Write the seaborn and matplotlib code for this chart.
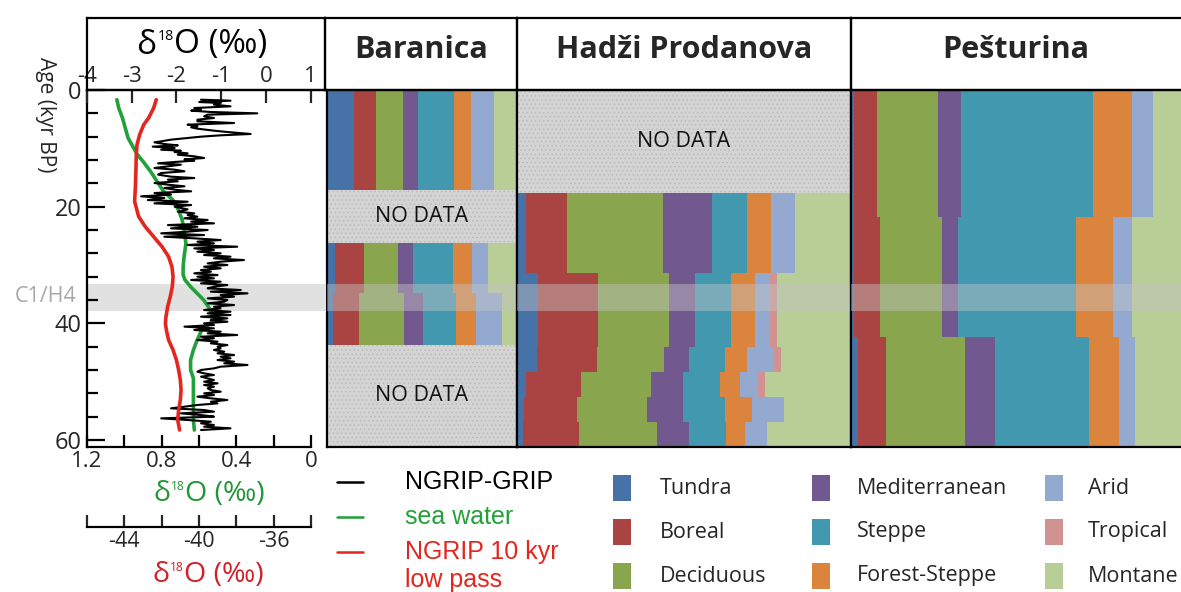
import matplotlib
matplotlib.use("Agg")
import matplotlib.pyplot as plt
import seaborn as sns
from matplotlib.patches import Rectangle
from matplotlib.ticker import MultipleLocator, FixedLocator
from matplotlib.offsetbox import TextArea, HPacker, AnnotationBbox

# ---------------- data ----------------
BIOMES = ["Tundra", "Boreal", "Deciduous", "Mediterranean", "Steppe",
          "Forest-Steppe", "Arid", "Tropical", "Montane"]
BIOME_COLORS = ["#4672A8", "#AA4442", "#89A54E", "#71588F", "#4198AF",
                "#DB843D", "#93A9CF", "#D19392", "#B9CD96"]

# NGRIP-GRIP d18O (top axis, per mil) vs age (kyr BP)
NGRIP_AGE = [1.66, 1.83, 2.06, 2.23, 2.51, 2.80, 3.09, 3.37, 3.54, 3.77, 4.00, 4.23, 4.51, 4.80,
             5.09, 5.37, 5.66, 5.94, 6.23, 6.40, 6.63, 6.97, 7.20, 7.54, 7.77, 8.00, 8.23, 8.51,
             8.80, 8.97, 9.26, 9.49, 9.71, 9.94, 10.23, 10.40, 10.63, 10.86, 11.09, 11.37, 11.66,
             11.89, 12.11, 12.34, 12.57, 12.80, 13.09, 13.37, 13.66, 13.94, 14.23, 14.51, 14.86,
             15.09, 15.37, 15.66, 15.94, 16.23, 16.51, 16.80, 17.09, 17.37, 17.66, 17.94, 18.23,
             18.51, 18.86, 19.15, 19.43, 19.72, 20.00, 20.46, 20.86, 21.15, 21.43, 21.72, 22.00,
             22.29, 22.57, 22.86, 23.15, 23.43, 23.72, 24.00, 24.29, 24.57, 24.86, 25.15, 25.43,
             25.72, 26.00, 26.29, 26.57, 26.86, 27.15, 27.43, 27.72, 28.00, 28.29, 28.57, 28.86,
             29.15, 29.43, 29.72, 30.00, 30.29, 30.57, 30.86, 31.15, 31.43, 31.72, 32.00, 32.29,
             32.57, 32.86, 33.15, 33.43, 33.72, 34.00, 34.29, 34.57, 34.86, 35.15, 35.43, 35.72,
             36.00, 36.29, 36.57, 36.86, 37.15, 37.43, 37.72, 38.00, 38.29, 38.57, 38.86, 39.15,
             39.43, 39.72, 40.00, 40.29, 40.57, 40.86, 41.14, 41.43, 41.72, 42.00, 42.29, 42.57,
             42.86, 43.14, 43.43, 43.72, 44.00, 44.29, 44.57, 44.86, 45.14, 45.43, 45.72, 46.00,
             46.29, 46.57, 46.86, 47.14, 47.43, 47.72, 48.00, 48.29, 48.57, 48.86, 49.14, 49.43,
             49.72, 50.00, 50.29, 50.57, 50.86, 51.14, 51.43, 51.72, 52.00, 52.29, 52.57, 52.86,
             53.14, 53.43, 53.72, 54.00, 54.29, 54.57, 54.86, 55.14, 55.43, 55.72, 56.00, 56.29,
             56.57, 56.86, 57.14, 57.43, 57.72, 58.00, 58.29]
NGRIP_D18O = [-1.45, -0.79, -1.49, -1.01, -1.16, -0.79, -1.60, -1.45, -1.67, -1.23, -0.19, -1.30,
              -1.38, -1.16, -1.53, -1.53, -0.71, -1.75, -1.53, -1.67, -1.53, -1.16, -0.86, -0.34,
              -1.01, -1.45, -1.75, -2.12, -2.34, -2.49, -2.27, -1.97, -2.53, -2.04, -2.34, -1.90,
              -2.04, -1.75, -1.97, -1.60, -1.38, -1.82, -1.60, -2.04, -2.41, -1.90, -2.19, -2.49,
              -2.04, -1.82, -2.34, -2.41, -2.12, -1.60, -2.19, -1.97, -2.49, -2.19, -1.82, -2.27,
              -2.04, -1.67, -2.49, -2.12, -2.79, -2.27, -2.64, -1.75, -2.49, -1.67, -2.04, -1.75,
              -1.97, -1.60, -1.75, -1.53, -1.82, -1.30, -1.67, -1.16, -2.19, -1.53, -2.12, -1.30,
              -1.75, -2.34, -1.38, -2.27, -1.60, -1.01, -1.53, -1.16, -1.75, -0.64, -1.60, -1.16,
              -1.53, -1.01, -1.38, -0.79, -1.16, -0.49, -1.01, -1.30, -0.86, -1.38, -1.01, -1.45,
              -1.23, -1.60, -1.08, -1.53, -1.16, -1.67, -1.01, -1.45, -0.86, -1.16, -1.30, -0.56,
              -1.23, -0.41, -1.01, -0.71, -1.30, -0.86, -0.93, -1.30, -0.71, -1.16, -1.01, -1.38,
              -0.79, -1.30, -0.79, -1.45, -0.86, -1.23, -0.86, -1.38, -1.16, -1.82, -1.16, -1.60,
              -1.01, -1.30, -0.64, -1.45, -1.16, -1.53, -1.08, -1.23, -0.86, -1.08, -1.01, -1.16,
              -0.93, -1.08, -0.71, -1.01, -0.79, -1.08, -0.71, -0.93, -0.41, -1.01, -1.16, -1.45,
              -1.53, -1.38, -1.16, -1.45, -1.30, -1.16, -1.38, -1.08, -1.38, -1.16, -1.30, -1.23,
              -1.01, -1.38, -1.16, -1.53, -1.23, -0.86, -1.23, -1.08, -1.53, -1.82, -2.12, -1.38,
              -1.16, -1.90, -1.45, -1.16, -2.34, -1.75, -1.23, -1.45, -1.16, -1.38, -0.79, -1.45]

# sea water d18O (green, bottom axis)
SEA_AGE = [1.66, 3.09, 4.80, 6.51, 8.23, 9.94, 11.09, 12.23, 13.94, 15.66, 17.37, 18.86, 20.57,
           22.29, 24.00, 26.29, 28.57, 30.29, 31.72, 32.57, 33.72, 34.86, 36.00, 37.15, 38.29,
           39.15, 40.00, 41.14, 42.86, 44.57, 46.29, 48.00, 49.43, 50.86, 53.14, 54.86, 56.57, 58.29]
SEA_D18O = [1.04, 1.03, 1.01, 0.995, 0.98, 0.95, 0.93, 0.90, 0.86, 0.825, 0.79, 0.74, 0.71,
            0.69, 0.68, 0.67, 0.68, 0.685, 0.685, 0.675, 0.645, 0.61, 0.575, 0.55, 0.53,
            0.525, 0.54, 0.585, 0.61, 0.63, 0.645, 0.645, 0.63, 0.63, 0.63, 0.63, 0.63, 0.625]

# NGRIP 10 kyr low pass (red, lower axis)
LOWPASS_AGE = [1.66, 3.09, 4.80, 5.94, 7.66, 9.37, 11.09, 13.94, 16.80, 19.09, 21.72, 23.43,
               25.15, 26.86, 28.57, 30.29, 32.00, 33.72, 35.43, 37.15, 38.86, 40.00, 41.14,
               42.86, 44.57, 46.29, 48.00, 49.72, 51.43, 53.14, 54.86, 56.57, 58.29]
LOWPASS_D18O = [-42.29, -42.43, -42.70, -42.96, -43.18, -43.32, -43.36, -43.38, -43.41, -43.45,
                -43.23, -42.88, -42.43, -41.98, -41.63, -41.45, -41.39, -41.43, -41.54, -41.68,
                -41.77, -41.80, -41.75, -41.63, -41.39, -41.21, -41.09, -41.00, -40.96, -41.00,
                -41.09, -41.14, -41.04]

# biome percentages per interval (order = BIOMES)
BARANICA_TOP = [0.0, 26.3, 34.8]
BARANICA_BASE = [17.1, 34.8, 43.7]
BARANICA_PCT = [[14.3, 11.4, 14.1, 7.9, 19.4, 8.8, 12.1, 0.0, 12.0],
                [4.0, 15.3, 18.1, 7.9, 20.8, 10.4, 8.1, 0.0, 15.4],
                [3.2, 13.6, 23.8, 9.9, 17.6, 10.2, 13.6, 0.0, 8.1]]
BARANICA_GAPS = [(17.1, 26.3), (43.7, 61.2)]

HADZI_TOP = [17.7, 31.3, 44.0, 48.3, 52.6, 56.9]
HADZI_BASE = [31.3, 44.0, 48.3, 52.6, 56.9, 61.2]
HADZI_PCT = [[2.7, 12.3, 28.8, 14.5, 10.5, 7.3, 7.0, 0.0, 16.9],
             [6.2, 18.1, 21.1, 8.0, 10.8, 7.0, 4.4, 2.3, 22.1],
             [6.0, 18.1, 19.8, 7.7, 10.6, 6.7, 8.0, 2.0, 21.1],
             [2.7, 16.5, 20.9, 9.7, 11.0, 6.0, 5.3, 2.2, 25.7],
             [2.0, 16.0, 20.8, 11.0, 12.5, 8.2, 9.3, 0.0, 20.2],
             [1.7, 16.8, 23.4, 9.7, 11.0, 5.8, 6.5, 0.0, 25.1]]
HADZI_GAPS = [(0.0, 17.7)]

PESTURINA_TOP = [0.0, 21.7, 42.4]
PESTURINA_BASE = [21.7, 42.4, 61.2]
PESTURINA_PCT = [[1.0, 6.8, 18.5, 6.9, 40.1, 12.0, 6.3, 0.0, 8.4],
                 [1.0, 7.8, 18.8, 4.9, 35.7, 11.2, 5.9, 0.0, 14.7],
                 [2.2, 8.4, 23.9, 9.0, 28.7, 9.1, 4.8, 0.0, 13.9]]
PESTURINA_GAPS = []

C1H4_SPAN = (33.3, 37.9)
AGE_LIM = (61.2, 0)

# ---------------- style ----------------
sns.set_theme(style="ticks")
plt.rcParams["font.family"] = ["Open Sans", "DejaVu Sans"]
plt.rcParams["axes.unicode_minus"] = False
plt.rcParams["hatch.linewidth"] = 0.6

GREEN = "#22a03a"
RED = "#e3261e"
LABEL_GREEN = "#23963a"
LABEL_RED = "#d42029"
GAP_COLOR = "#d4d4d4"
LW = 1.6

W, H = 1181, 592
fig = plt.figure(figsize=(W / 100, H / 100), dpi=100)


def box(x0, y0, x1, y1):
    return fig.add_axes([x0 / W, 1 - y1 / H, (x1 - x0) / W, (y1 - y0) / H])


def frame(a, hide=()):
    for name, sp in a.spines.items():
        sp.set_color("black")
        sp.set_linewidth(LW)
        sp.set_visible(name not in hide)


def iso_label(x, y, size, color="black"):
    # delta 18O (permil) with a small raised "18"
    parts = [TextArea("δ", textprops=dict(fontsize=size, color=color)),
             TextArea("18", textprops=dict(fontsize=size * 0.42, color=color)),
             TextArea("O (‰)", textprops=dict(fontsize=size, color=color))]
    pack = HPacker(children=parts, align="top", pad=0, sep=0.5)
    fig.add_artist(AnnotationBbox(pack, (x, H - y), xycoords="figure pixels",
                                  frameon=False, box_alignment=(0.5, 0.5)))


# ---------- left panel: isotope curves ----------
ax = box(87, 90, 325, 447)
ax.axhspan(*C1H4_SPAN, color="#c4c4c4", alpha=0.5, lw=0, zorder=0)
sns.lineplot(x=SEA_D18O, y=SEA_AGE, sort=False, estimator=None, color=GREEN, lw=2.6, ax=ax)
ax.set_xlim(1.2, -0.075)
ax.set_ylim(*AGE_LIM)
ax.set_xticks([1.2, 0.8, 0.4, 0.0])
ax.set_xticklabels(["1.2", "0.8", "0.4", "0"])
ax.xaxis.set_minor_locator(FixedLocator([1.0, 0.6, 0.2]))
ax.set_yticks([0, 20, 40, 60])
ax.yaxis.set_minor_locator(MultipleLocator(4))
ax.tick_params(axis="both", which="both", direction="in", width=LW, color="black")
ax.tick_params(axis="x", which="both", length=9, labelsize=16, pad=3, bottom=True)
ax.tick_params(axis="y", which="major", length=13, labelsize=17, pad=4, left=True)
ax.tick_params(axis="y", which="minor", length=8, left=True)
ax.set_xlabel("")
ax.set_ylabel("")
frame(ax, hide=("right", "top"))
ax.spines["bottom"].set_bounds(1.2, 0.0)

axt = ax.twiny()
sns.lineplot(x=NGRIP_D18O, y=NGRIP_AGE, sort=False, estimator=None, color="black", lw=1.5, ax=axt)
axt.set_xlim(-4, 1.324)
axt.set_xticks(range(-4, 2))
axt.tick_params(axis="x", direction="in", length=9, width=LW, labelsize=16, pad=2, top=True)
axt.set_xlabel("")
axt.set_ylabel("")
frame(axt, hide=("left", "right", "bottom"))

axr = ax.twiny()
sns.lineplot(x=LOWPASS_D18O, y=LOWPASS_AGE, sort=False, estimator=None, color=RED, lw=2.6, ax=axr)
axr.set_xlim(-46, -33.25)
axr.xaxis.set_ticks_position("bottom")
axr.xaxis.set_label_position("bottom")
frame(axr, hide=("left", "right", "top"))
axr.spines["bottom"].set_position(("outward", 57.6))
axr.spines["bottom"].set_bounds(-46, -34)
axr.set_xticks([-44, -40, -36])
axr.xaxis.set_minor_locator(FixedLocator([-46, -42, -38, -34]))
axr.tick_params(axis="x", which="both", direction="in", length=9, width=LW,
                labelsize=15.5, pad=3, bottom=True, top=False)
axr.set_xlabel("")
axr.set_ylabel("")
ax.set_ylim(*AGE_LIM)

iso_label(202, 45, 24)
iso_label(209, 494, 20.5, LABEL_GREEN)
iso_label(208, 575, 20.5, LABEL_RED)
fig.text(45 / W, 1 - 115 / H, "Age (kyr BP)", fontsize=15, rotation=270,
         ha="center", va="center")
fig.text(46 / W, 1 - 297 / H, "C1/H4", fontsize=15.5, color="#a8a8a8",
         ha="center", va="center")


# ---------- vegetation panels ----------
def veg_panel(x0, x1, tops, bases, pcts, gaps, hide=()):
    a = box(x0, 90, x1, 447)
    for top, base, row in zip(tops, bases, pcts):
        left = 0.0
        for pct, col in zip(row, BIOME_COLORS):
            if pct > 0:
                a.barh(y=(top + base) / 2, width=pct, left=left, height=base - top,
                       color=col, linewidth=0)
            left += pct
    for g0, g1 in gaps:
        a.barh(y=(g0 + g1) / 2, width=100, left=0, height=g1 - g0, facecolor=GAP_COLOR,
               edgecolor="#bababa", hatch="....", linewidth=0)
        a.text(50, (g0 + g1) / 2, "NO DATA", ha="center", va="center", fontsize=15.5,
               color="#111111")
    a.axhspan(*C1H4_SPAN, color="#c4c4c4", alpha=0.45, lw=0, zorder=3)
    a.set_xlim(0, 100)
    a.set_ylim(*AGE_LIM)
    a.set_xticks([])
    a.set_yticks([])
    frame(a, hide=hide)
    return a


veg_panel(327, 517, BARANICA_TOP, BARANICA_BASE, BARANICA_PCT, BARANICA_GAPS)
veg_panel(517, 851, HADZI_TOP, HADZI_BASE, HADZI_PCT, HADZI_GAPS)
veg_panel(851, 1181, PESTURINA_TOP, PESTURINA_BASE, PESTURINA_PCT, PESTURINA_GAPS,
          hide=("right",))

# ---------- title row ----------
TITLE_EDGES = [(87, 325, ""), (325, 517, "Baranica"), (517, 851, "Hadži Prodanova"),
               (851, 1181, "Pešturina")]
for x0, x1, name in TITLE_EDGES:
    t = box(x0, 18, x1, 90)
    t.set_xticks([])
    t.set_yticks([])
    t.patch.set_visible(False)
    frame(t, hide=("right",) if x1 >= W else ())
    if name:
        t.text(0.5, 0.55, name, transform=t.transAxes, ha="center", va="center",
               fontsize=22, fontweight="bold")

# ---------- legends ----------
lg = fig.add_axes([0, 0, 1, 1])
lg.set_xlim(0, W)
lg.set_ylim(H, 0)
lg.axis("off")
lg.patch.set_visible(False)

NARROW = ["Liberation Sans Narrow", "Liberation Sans", "DejaVu Sans"]
line_rows = [("NGRIP-GRIP", "black", 482), ("sea water", GREEN, 517),
             ("NGRIP 10 kyr", RED, 552)]
for label, col, y in line_rows:
    lg.plot([337, 363], [y, y], color=col, lw=1.8)
    lg.text(405, y, label, color=col, fontsize=18, family=NARROW, ha="left", va="center")
lg.text(405, 580, "low pass", color=RED, fontsize=18, family=NARROW, ha="left", va="center")

sq_x = [613, 812, 1045]
lab_x = [660, 857, 1088]
row_y = [488, 532, 576]
for i, (name, col) in enumerate(zip(BIOMES, BIOME_COLORS)):
    c, r = divmod(i, 3)
    lg.add_patch(Rectangle((sq_x[c], row_y[r] - 13), 18, 26, facecolor=col, lw=0))
    lg.text(lab_x[c], row_y[r], name, fontsize=15.5, ha="left", va="center")

fig.savefig("out.png", dpi=100)
